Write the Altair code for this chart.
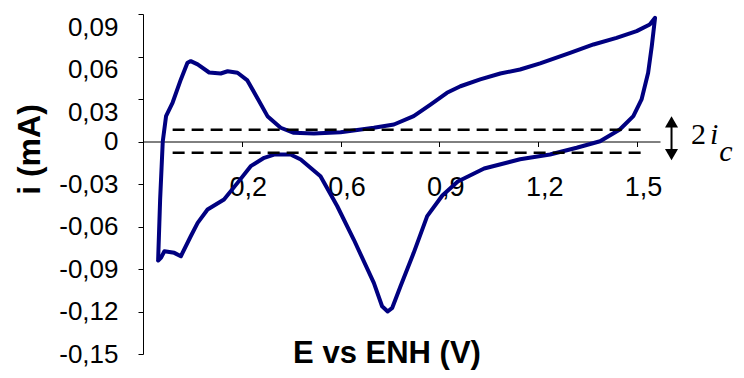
import json
import altair as alt
import pandas as pd

# ---- cyclic voltammogram (E in V, i in mA) ----
E_V = [0.046, 0.052, 0.060, 0.070, 0.090, 0.115, 0.135, 0.145, 0.166, 0.201,
       0.236, 0.257, 0.287, 0.317, 0.348, 0.378, 0.418, 0.458, 0.519, 0.600,
       0.701, 0.762, 0.822, 0.873, 0.923, 0.964, 1.024, 1.085, 1.145, 1.206,
       1.297, 1.368, 1.438, 1.499, 1.539, 1.555, 1.545, 1.534, 1.514, 1.489,
       1.448, 1.388, 1.317, 1.236, 1.145, 1.036, 0.956, 0.909, 0.863, 0.822,
       0.782, 0.757, 0.743, 0.726, 0.701, 0.640, 0.590, 0.539, 0.479, 0.448,
       0.398, 0.368, 0.327, 0.287, 0.246, 0.196, 0.166, 0.145, 0.115, 0.095,
       0.065, 0.055, 0.046]
I_MA = [-0.0833, -0.0410, 0.0000, 0.0179, 0.0275, 0.0438, 0.0556, 0.0567, 0.0544, 0.0487,
        0.0480, 0.0496, 0.0485, 0.0431, 0.0304, 0.0179, 0.0097, 0.0061, 0.0056, 0.0066,
        0.0097, 0.0120, 0.0179, 0.0261, 0.0344, 0.0390, 0.0438, 0.0480, 0.0508, 0.0551,
        0.0626, 0.0685, 0.0732, 0.0779, 0.0826, 0.0873, 0.0673, 0.0485, 0.0297, 0.0179,
        0.0085, 0.0002, -0.0044, -0.0092, -0.0125, -0.0191, -0.0282, -0.0381, -0.0527, -0.0786,
        -0.1021, -0.1174, -0.1200, -0.1163, -0.0998, -0.0692, -0.0457, -0.0245, -0.0127, -0.0092,
        -0.0092, -0.0115, -0.0174, -0.0292, -0.0409, -0.0480, -0.0574, -0.0669, -0.0810, -0.0786,
        -0.0775, -0.0819, -0.0840]

# capacitive current band (dashed lines)
IC_LEVELS = [0.0083, -0.0080]
IC_X_START = 0.09
IC_X_END = 1.514

# axes
X_DOMAIN = [0, 1.57]
Y_DOMAIN = [-0.15, 0.09]
X_TICKS = [0.3, 0.6, 0.9, 1.2, 1.5]
X_TICK_LABELS = ["0,2", "0,6", "0,9", "1,2", "1,5"]
Y_TICKS = [-0.15, -0.12, -0.09, -0.06, -0.03, 0, 0.03, 0.06, 0.09]
Y_TICK_LABELS = ["-0,15", "-0,12", "-0,09", "-0,06", "-0,03", "0", "0,03", "0,06", "0,09"]
X_TITLE = "E vs ENH (V)"
Y_TITLE = "i (mA)"

# "2 i_c" annotation with double arrow
ARROW_X = 1.605
ARROW_HEAD_Y = [0.0139, -0.0092]
ARROW_HEAD_SHAPE = ["triangle-up", "triangle-down"]
NOTE_TEXT = ["2", "i", "c"]
NOTE_X = [1.664, 1.722, 1.750]
NOTE_Y = [-0.0021, -0.0021, -0.0141]
NOTE_ITALIC = [False, True, True]

SANS = "Liberation Sans, Arial, sans-serif"
SERIF = "serif"


def lookup_expr(values, labels):
    return f"{json.dumps(labels)}[indexof({json.dumps(values)}, datum.value)]"


xs = alt.Scale(domain=X_DOMAIN, nice=False, zero=False)
ys = alt.Scale(domain=Y_DOMAIN, nice=False, zero=False)

x_axis = alt.Axis(
    values=X_TICKS, labelExpr=lookup_expr(X_TICKS, X_TICK_LABELS),
    offset=-212.5, grid=False, tickSize=5, tickWidth=1, tickColor="black",
    domainColor="black", domainWidth=1,
    labelFont=SANS, labelFontSize=27, labelColor="black",
    labelBaseline="top", labelAlign="center", labelPadding=28, labelOffset=6,
    labelFlush=False, labelOverlap=False,
    title=X_TITLE, titleFont=SANS, titleFontSize=31,
    titleFontWeight="bold", titleColor="black",
    titleX=243.5, titleY=221, titleAlign="center", titleBaseline="alphabetic",
)
y_axis = alt.Axis(
    values=Y_TICKS, labelExpr=lookup_expr(Y_TICKS, Y_TICK_LABELS),
    grid=False, tickSize=5, tickWidth=1, tickColor="black",
    domainColor="black", domainWidth=1,
    labelFont=SANS, labelFontSize=26, labelColor="black",
    labelAlign="right", labelPadding=20,
    labelBaseline={"condition": {"test": "datum.value > 0", "value": "top"}, "value": "middle"},
    labelFlush=False, labelOverlap=False,
    title=Y_TITLE, titleFont=SANS, titleFontSize=32,
    titleFontWeight="bold", titleColor="black", titleAngle=270,
    titleX=-114, titleY=135, titleAlign="center", titleBaseline="middle",
)

curve = pd.DataFrame({"E": E_V, "I": I_MA, "k": list(range(len(E_V)))})
line = alt.Chart(curve).mark_line(
    color="#000080", strokeWidth=4, strokeJoin="round", strokeCap="round"
).encode(
    x=alt.X("E:Q", scale=xs, axis=x_axis),
    y=alt.Y("I:Q", scale=ys, axis=y_axis),
    order=alt.Order("k:Q"),
)

band = pd.DataFrame({"y": IC_LEVELS, "x1": [IC_X_START] * len(IC_LEVELS),
                     "x2": [IC_X_END] * len(IC_LEVELS)})
dashes = alt.Chart(band).mark_rule(color="black", strokeWidth=2.5, strokeDash=[12, 7]).encode(
    x=alt.X("x1:Q", scale=xs),
    x2="x2:Q",
    y=alt.Y("y:Q", scale=ys),
)

shaft_df = pd.DataFrame({"x": [ARROW_X], "y1": [ARROW_HEAD_Y[0]], "y2": [ARROW_HEAD_Y[1]]})
shaft = alt.Chart(shaft_df).mark_rule(color="black", strokeWidth=2).encode(
    x=alt.X("x:Q", scale=xs),
    y=alt.Y("y1:Q", scale=ys),
    y2="y2:Q",
)
heads_df = pd.DataFrame({"x": [ARROW_X] * 2, "y": ARROW_HEAD_Y, "shape": ARROW_HEAD_SHAPE})
heads = alt.Chart(heads_df).mark_point(filled=True, size=170, color="black", opacity=1).encode(
    x=alt.X("x:Q", scale=xs),
    y=alt.Y("y:Q", scale=ys),
    shape=alt.Shape("shape:N", scale=None),
)

note_df = pd.DataFrame({"t": NOTE_TEXT, "x": NOTE_X, "y": NOTE_Y, "it": NOTE_ITALIC})
note_normal = alt.Chart(note_df[~note_df["it"]]).mark_text(
    font=SERIF, fontSize=30, align="left", baseline="alphabetic", color="black"
).encode(
    x=alt.X("x:Q", scale=xs),
    y=alt.Y("y:Q", scale=ys),
    text="t:N",
)
note_italic = alt.Chart(note_df[note_df["it"]]).mark_text(
    font=SERIF, fontSize=30, fontStyle="italic", align="left",
    baseline="alphabetic", color="black"
).encode(
    x=alt.X("x:Q", scale=xs),
    y=alt.Y("y:Q", scale=ys),
    text="t:N",
)

chart = alt.layer(line, dashes, shaft, heads, note_normal, note_italic).properties(
    width=517,
    height=340,
    padding={"left": 135, "top": 6, "right": 76, "bottom": 16},
    autosize=alt.AutoSizeParams(type="none"),
    background="white",
).configure_view(strokeWidth=0)

chart.save("out.html", embed_options={"renderer": "svg", "actions": False})
